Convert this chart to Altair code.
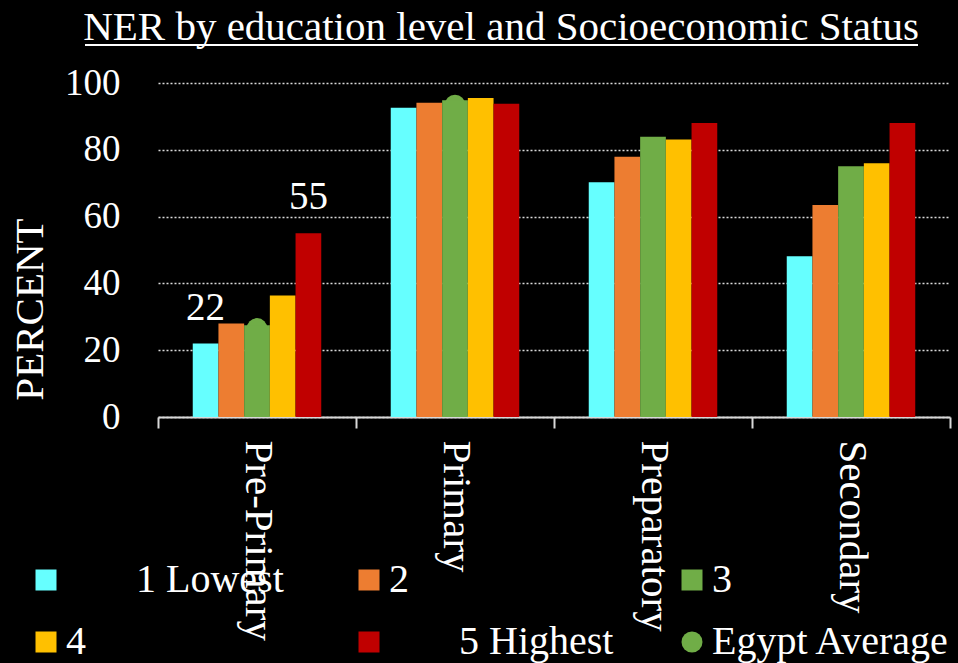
import altair as alt
import pandas as pd

title_text = "NER by education level and Socioeconomic Status"
levels = ["Pre-Primary", "Primary", "Preparatory", "Secondary"]
groups = ["1 Lowest", "2", "3", "4", "5 Highest"]
q1 = [22, 92.6, 70.3, 48.1]
q2 = [28, 94.1, 77.9, 63.5]
q3 = [27.5, 94.8, 83.9, 75.1]
q4 = [36.4, 95.5, 83.1, 76.0]
q5 = [55, 93.8, 88.0, 88.0]
egypt_avg = [26.5, 93.4, None, None]
avg_name = "Egypt Average"
colors = ["#66FFFF", "#ED7D31", "#70AD47", "#FFC000", "#C00000", "#70AD47"]
labelled = [("Pre-Primary", "1 Lowest"), ("Pre-Primary", "5 Highest")]
# legend entries that the reference shows with a wide leading gap
padded = ["1 Lowest", "5 Highest"]

FONT = "Liberation Serif"
# zero-width space first so the following spaces are not trimmed away
PAD = "\u200b" + "\u2002" * 3 + "\u00a0"


def display(name):
    return PAD + name if name in padded else name


rows = []
for g, vals in zip(groups, [q1, q2, q3, q4, q5]):
    for lv, v in zip(levels, vals):
        rows.append({"level": lv, "group": g, "series": display(g), "value": v,
                     "label": (lv, g) in labelled})
bars_df = pd.DataFrame(rows)
avg_df = pd.DataFrame([{"level": lv, "group": "3", "series": avg_name, "value": v}
                       for lv, v in zip(levels, egypt_avg) if v is not None])
lab_df = bars_df[bars_df["label"]]

all_series = [display(g) for g in groups] + [avg_name]
# empty slots either side of the five bars give the gap between education levels
offset_domain = ["_gapL"] + groups + ["_gapR"]

x_enc = alt.X("level:N", sort=levels, title=None,
              scale=alt.Scale(paddingInner=0, paddingOuter=0),
              axis=alt.Axis(labelAngle=90, labelAlign="left", labelBaseline="middle",
                            labelPadding=12, labelFontSize=41, labelFont=FONT,
                            labelColor="white", labelLimit=400, tickBand="extent",
                            tickSize=11, tickWidth=2, tickColor="#d9d9d9",
                            domainColor="#d9d9d9", domainWidth=2, grid=False))
xo_enc = alt.XOffset("group:N",
                     scale=alt.Scale(domain=offset_domain, paddingInner=0,
                                     paddingOuter=0.352))
y_enc = alt.Y("value:Q", scale=alt.Scale(domain=[0, 100]),
              axis=alt.Axis(values=[0, 20, 40, 60, 80, 100], labelFontSize=37,
                            labelFont=FONT, labelColor="white", labelPadding=38,
                            ticks=False, domain=False, grid=True, gridColor="#d9d9d9",
                            gridDash=[2, 2], gridWidth=1.5,
                            title="PERCENT", titleFont=FONT, titleFontSize=41,
                            titleFontWeight="normal", titleColor="white",
                            titleAngle=-90, titleAlign="center",
                            titleBaseline="alphabetic", titleX=-116, titleY=226))

legend = alt.Legend(title=None, orient="none", legendX=-132, legendY=477,
                    direction="horizontal", columns=3, gridAlign="all",
                    columnPadding=44, rowPadding=22, symbolSize=441,
                    symbolStrokeWidth=0, symbolOffset=0, labelOffset=0,
                    labelFont=FONT, labelFontSize=40, labelColor="white",
                    labelLimit=400, padding=0)
color_enc = alt.Color("series:N", scale=alt.Scale(domain=all_series, range=colors),
                      legend=legend)
shape_enc = alt.Shape("series:N",
                      scale=alt.Scale(domain=all_series,
                                      range=["square"] * 5 + ["circle"]),
                      legend=legend)

points = alt.Chart(avg_df).mark_point(filled=True, size=430, opacity=1).encode(
    x=x_enc, xOffset=xo_enc, y=y_enc, color=color_enc, shape=shape_enc)

bars = alt.Chart(bars_df).mark_bar().encode(
    x=x_enc, xOffset=xo_enc, y=y_enc, color=color_enc)

texts = alt.Chart(lab_df).mark_text(font=FONT, fontSize=39, color="white",
                                    baseline="alphabetic", dy=-24).encode(
    x=x_enc, xOffset=xo_enc, y=y_enc, text=alt.Text("value:Q", format=".0f"))

one = alt.Data(values=[{"t": title_text}])
title_mark = alt.Chart(one).mark_text(font=FONT, fontSize=41, color="white",
                                      align="center", baseline="alphabetic").encode(
    x=alt.value(343), y=alt.value(-43), text="t:N")

underline = alt.Chart(one).mark_rule(color="white", strokeWidth=2).encode(
    x=alt.value(-73), x2=alt.value(760), y=alt.value(-38))

chart = alt.layer(points, bars, texts, title_mark, underline).properties(
    width=792, height=334,
    autosize=alt.AutoSizeParams(type="none"),
    padding={"left": 158, "top": 83, "right": 8, "bottom": 246},
    background="black",
).configure_view(stroke=None)

chart.save("out.html", embed_options={"renderer": "svg", "actions": False})
